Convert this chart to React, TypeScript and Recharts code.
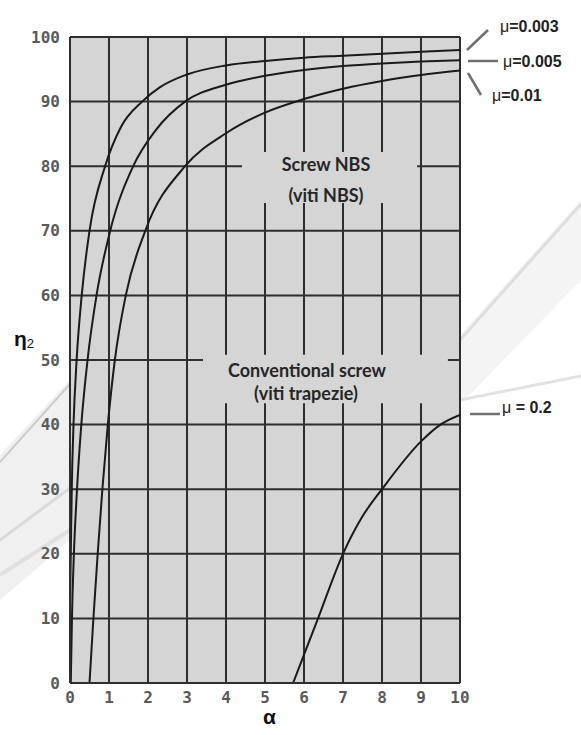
import React from 'react';
import {
    LineChart, Line, XAxis, YAxis, CartesianGrid, ReferenceArea, ReferenceLine
} from 'recharts';

// efficiency curves (a = lead angle, eta = efficiency %)
const mu003 = [
    { a: 0, eta: 12 }, { a: 0.02, eta: 20 }, { a: 0.045, eta: 30 }, { a: 0.09, eta: 40 },
    { a: 0.17, eta: 50 }, { a: 0.3, eta: 60 }, { a: 0.5, eta: 70 }, { a: 0.9, eta: 80 },
    { a: 1.3, eta: 86 }, { a: 1.85, eta: 90 }, { a: 2.3, eta: 92.2 }, { a: 3, eta: 94.2 },
    { a: 4, eta: 95.6 }, { a: 5, eta: 96.3 }, { a: 6, eta: 96.8 }, { a: 7, eta: 97.1 },
    { a: 8, eta: 97.4 }, { a: 9, eta: 97.7 }, { a: 10, eta: 98 },
];
const mu005 = [
    { a: 0.02, eta: 0 }, { a: 0.05, eta: 10 }, { a: 0.1, eta: 20 }, { a: 0.18, eta: 30 },
    { a: 0.29, eta: 40 }, { a: 0.45, eta: 50 }, { a: 0.68, eta: 60 }, { a: 1.03, eta: 70 },
    { a: 1.62, eta: 80 }, { a: 2.2, eta: 85.6 }, { a: 2.95, eta: 90 }, { a: 4, eta: 92.6 },
    { a: 5, eta: 94 }, { a: 6, eta: 94.9 }, { a: 7, eta: 95.5 }, { a: 8, eta: 95.9 },
    { a: 9, eta: 96.2 }, { a: 10, eta: 96.4 },
];
const mu01 = [
    { a: 0.5, eta: 0 }, { a: 0.6, eta: 10 }, { a: 0.71, eta: 20 }, { a: 0.83, eta: 30 },
    { a: 0.97, eta: 40 }, { a: 1.15, eta: 50 }, { a: 1.43, eta: 60 }, { a: 1.93, eta: 70 },
    { a: 2.95, eta: 80 }, { a: 4, eta: 85.1 }, { a: 5, eta: 88.3 }, { a: 6, eta: 90.4 },
    { a: 7, eta: 92 }, { a: 8, eta: 93.2 }, { a: 9, eta: 94.1 }, { a: 10, eta: 94.8 },
];
const mu02 = [
    { a: 5.72, eta: 0 }, { a: 6.36, eta: 10 }, { a: 7, eta: 20 }, { a: 7.5, eta: 25.8 },
    { a: 8, eta: 30 }, { a: 9, eta: 37.4 }, { a: 9.5, eta: 40 }, { a: 10, eta: 41.5 },
];

const xTicks = [0, 1, 2, 3, 4, 5, 6, 7, 8, 9, 10];
const yTicks = [0, 10, 20, 30, 40, 50, 60, 70, 80, 90, 100];

const series = [
    { name: 'mu003', data: mu003 },
    { name: 'mu005', data: mu005 },
    { name: 'mu01', data: mu01 },
    { name: 'mu02', data: mu02 },
];

const BG = '#d5d5d5';
const GRID = '#2e2e2e';
const tickStyle = { fontSize: 16, fill: '#5a5a5a', fontFamily: '"DejaVu Sans Mono", monospace', fontWeight: 700 };

const muLabel: React.CSSProperties = {
    position: 'absolute', fontFamily: '"Liberation Sans", Arial, sans-serif', fontWeight: 700,
    fontSize: 16, color: '#222', lineHeight: '18px', whiteSpace: 'nowrap',
};
const boxText: React.CSSProperties = {
    position: 'absolute', fontFamily: 'Lato, sans-serif', fontWeight: 700, fontSize: 18,
    color: '#262626', lineHeight: '20px', whiteSpace: 'nowrap', transform: 'translate(-50%, -50%)',
};

const Mu = () => <span style={{ fontWeight: 400 }}>μ</span>;

export default function App() {
    return (
        <div style={{ position: 'absolute', left: 0, top: 0, width: 581, height: 735, background: '#fff', overflow: 'hidden' }}>
            {/* background ribbon */}
            <svg width={581} height={735} style={{ position: 'absolute', left: 0, top: 0 }}>
                <polygon points="0,455 70,380 70,540 0,600" fill="#f0f0f0" />
                <line x1={0} y1={462} x2={70} y2={384} stroke="#cdcdcd" strokeWidth={2} />
                <line x1={0} y1={540} x2={70} y2={488} stroke="#dadada" strokeWidth={3} />
                <line x1={0} y1={575} x2={70} y2={530} stroke="#e0e0e0" strokeWidth={4} />
                <polygon points="460,335 581,200 581,280 460,405" fill="#f4f4f4" />
                <line x1={460} y1={340} x2={581} y2={204} stroke="#dedede" strokeWidth={3} />
                <line x1={460} y1={400} x2={581} y2={376} stroke="#e2e2e2" strokeWidth={3} />
            </svg>
            <div style={{ position: 'absolute', left: 0, top: 0 }}>
                <LineChart width={581} height={735} margin={{ top: 37, right: 121, bottom: 22, left: 10 }}>
                    <CartesianGrid stroke={GRID} strokeWidth={2} fill={BG} fillOpacity={1} />
                    <XAxis
                        dataKey="a" type="number" domain={[0, 10]} ticks={xTicks} allowDataOverflow
                        height={30} tickLine={false} tickSize={0} tickMargin={9}
                        axisLine={{ stroke: GRID, strokeWidth: 2 }} tick={tickStyle}
                    />
                    <YAxis
                        dataKey="eta" type="number" domain={[0, 100]} ticks={yTicks} allowDataOverflow
                        width={60} tickLine={false} tickSize={0} tickMargin={10}
                        axisLine={{ stroke: GRID, strokeWidth: 2 }} tick={tickStyle}
                    />
                    <ReferenceLine y={100} stroke={GRID} strokeWidth={2} />
                    <ReferenceLine x={10} stroke={GRID} strokeWidth={2} />
                    <ReferenceArea x1={4.41} x2={8.9} y1={74.3} y2={82.2} fill={BG} fillOpacity={1} stroke="none" />
                    <ReferenceArea x1={3.41} x2={9.69} y1={43.3} y2={50.8} fill={BG} fillOpacity={1} stroke="none" />
                    {series.map(s => (
                        <Line
                            key={s.name} data={s.data} dataKey="eta" type="monotone" stroke="#1a1a1a"
                            strokeWidth={2} dot={false} activeDot={false} isAnimationActive={false}
                        />
                    ))}
                </LineChart>
            </div>

            {/* text inside the plot */}
            <div style={{ ...boxText, left: 326, top: 164 }}>Screw NBS</div>
            <div style={{ ...boxText, left: 326, top: 195 }}>(viti NBS)</div>
            <div style={{ ...boxText, left: 307, top: 370 }}>Conventional screw</div>
            <div style={{ ...boxText, left: 306, top: 393 }}>(viti trapezie)</div>

            {/* leader lines */}
            <svg width={581} height={735} style={{ position: 'absolute', left: 0, top: 0, pointerEvents: 'none' }}>
                <g stroke="#707070" strokeWidth={2.5}>
                    <line x1={467} y1={50} x2={488} y2={30} />
                    <line x1={468} y1={61} x2={498} y2={61} />
                    <line x1={468} y1={73} x2={481} y2={95} />
                    <line x1={470} y1={414} x2={500} y2={414} />
                </g>
            </svg>
            <div style={{ ...muLabel, left: 500, top: 18 }}><Mu />=0.003</div>
            <div style={{ ...muLabel, left: 503, top: 53 }}><Mu />=0.005</div>
            <div style={{ ...muLabel, left: 492, top: 87 }}><Mu />=0.01</div>
            <div style={{ ...muLabel, left: 502, top: 399 }}><Mu /> = 0.2</div>

            {/* axis titles */}
            <div style={{ position: 'absolute', left: 14, top: 327, fontFamily: '"Liberation Sans", Arial, sans-serif', color: '#111', whiteSpace: 'nowrap' }}>
                <span style={{ fontSize: 21, fontWeight: 700 }}>η</span>
                <span style={{ fontSize: 13, position: 'relative', top: 2 }}>2</span>
            </div>
            <div style={{ position: 'absolute', left: 263, top: 705, fontFamily: '"Liberation Sans", Arial, sans-serif', fontSize: 21, fontWeight: 700, color: '#111' }}>α</div>
        </div>
    );
}
